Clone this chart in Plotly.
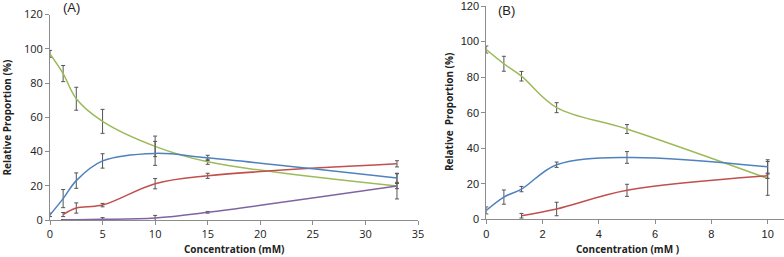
import plotly.graph_objects as go

# ---------------- Panel A data ----------------
a_green_x = [0, 1.25, 2.5, 5, 10, 15, 33]
a_green_y = [97, 85.5, 70.8, 57.6, 43, 34, 19.8]
a_green_e = [2, 4.7, 6.7, 7, 6, 1.5, 1.5]

a_blue_x = [0, 1.25, 2.5, 5, 10, 15, 33]
a_blue_y = [3, 12.5, 23, 34.5, 38.9, 36.3, 24.5]
a_blue_e = [1, 5.3, 4.5, 4.2, 7, 1.5, 2.5]

a_red_x = [1.25, 2.5, 5, 10, 15, 33]
a_red_y = [3.2, 7, 8.7, 21.2, 25.8, 32.8]
a_red_e = [1.2, 3, 1, 3, 1.5, 1.8]

a_purple_x = [1.25, 2.5, 5, 10, 15, 33]
a_purple_y = [0.2, 0.2, 0.4, 1.2, 4.5, 19.8]
a_purple_e = [0, 0, 1, 1.5, 0.5, 7.5]

# ---------------- Panel B data ----------------
b_green_x = [0, 0.625, 1.25, 2.5, 5, 10]
b_green_y = [95.5, 87.5, 80.5, 62.8, 50.8, 23]
b_green_e = [2, 4.2, 2.7, 2.8, 2.5, 9.5]

b_blue_x = [0, 0.625, 1.25, 2.5, 5, 10]
b_blue_y = [5, 12.5, 17, 30.7, 34.8, 29.5]
b_blue_e = [2, 4, 1.5, 1.5, 3.3, 4]

b_red_x = [1.25, 2.5, 5, 10]
b_red_y = [2, 5.8, 16.3, 24.5]
b_red_e = [1.3, 3.8, 3.4, 1.5]

x_ticks_a = [0, 5, 10, 15, 20, 25, 30, 35]
x_ticks_b = [0, 2, 4, 6, 8, 10]
y_ticks = [0, 20, 40, 60, 80, 100, 120]

GREEN = "#9BBB59"
BLUE = "#4F81BD"
RED = "#C0504D"
PURPLE = "#8064A2"
ERR = "#555555"

fig = go.Figure()


def add(x, y, e, color, xa, ya):
    fig.add_trace(go.Scatter(
        x=x, y=y, mode="lines",
        line=dict(color=color, width=1.5, shape="spline", smoothing=1.0),
        error_y=dict(type="data", array=e, visible=True, color=ERR,
                     thickness=1, width=2),
        xaxis=xa, yaxis=ya, showlegend=False, hoverinfo="skip"))


add(a_green_x, a_green_y, a_green_e, GREEN, "x", "y")
add(a_purple_x, a_purple_y, a_purple_e, PURPLE, "x", "y")
add(a_red_x, a_red_y, a_red_e, RED, "x", "y")
add(a_blue_x, a_blue_y, a_blue_e, BLUE, "x", "y")

add(b_green_x, b_green_y, b_green_e, GREEN, "x2", "y2")
add(b_red_x, b_red_y, b_red_e, RED, "x2", "y2")
add(b_blue_x, b_blue_y, b_blue_e, BLUE, "x2", "y2")

W, H = 784, 257
axcol = "#8c8c8c"
tickfont_a = dict(family="Open Sans, Lato, sans-serif", size=11, color="#222")
tickfont_b = dict(family="Liberation Sans, Arial, sans-serif", size=11, color="#222")

common = dict(showgrid=False, zeroline=False, showline=True, linecolor=axcol,
              linewidth=1, ticks="outside", ticklen=4, tickcolor=axcol,
              tickwidth=1, automargin=False, ticklabeloverflow="allow")

fig.update_layout(
    width=W, height=H,
    margin=dict(l=0, r=0, t=0, b=0, autoexpand=False),
    paper_bgcolor="white", plot_bgcolor="white",
    xaxis=dict(domain=[50 / W, 418 / W], range=[0, 35], tickvals=x_ticks_a,
               anchor="y", tickfont=tickfont_a, **common),
    yaxis=dict(domain=[(H - 220) / H, (H - 14.5) / H], range=[0, 120],
               tickvals=y_ticks, anchor="x", tickfont=tickfont_a, **common),
    xaxis2=dict(domain=[486.3 / W, 1.0], range=[0, 10.58], tickvals=x_ticks_b,
                anchor="y2", tickfont=tickfont_b, **common),
    yaxis2=dict(domain=[(H - 219.3) / H, (H - 6) / H], range=[0, 120],
                tickvals=y_ticks, anchor="x2", tickfont=tickfont_b, **common),
)

title_font = dict(family="Open Sans, Lato, sans-serif", size=10, color="#222")
ann = [
    dict(text="(A)", x=71 / W, y=(H - 7) / H, font=dict(family="Liberation Sans, Arial", size=13, color="#222")),
    dict(text="(B)", x=506 / W, y=(H - 11) / H, font=dict(family="Liberation Sans, Arial", size=13, color="#222")),
    dict(text="<b>Concentration (mM)</b>", x=234 / W, y=(H - 249) / H, font=title_font),
    dict(text="<b>Concentration (mM )</b>", x=627 / W, y=(H - 249) / H, font=title_font),
    dict(text="<b>Relative Proportion (%)</b>", x=6.5 / W, y=(H - 118) / H, textangle=-90, font=title_font),
    dict(text="<b>Relative  Proportion (%)</b>", x=449 / W, y=(H - 112) / H, textangle=-90, font=title_font),
]
for a in ann:
    fig.add_annotation(xref="paper", yref="paper", showarrow=False,
                       xanchor="center", yanchor="middle", **a)

fig.write_html(
    "out.html",
    config={"displayModeBar": False},
    post_script="document.body.style.margin='0px';document.body.style.overflow='hidden';",
)
